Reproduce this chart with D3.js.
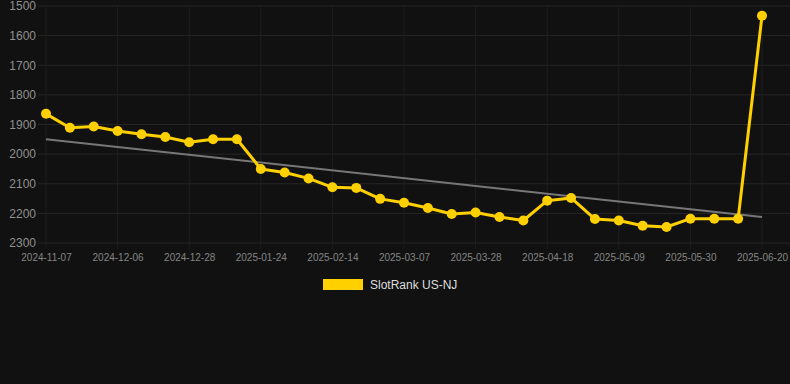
<!DOCTYPE html>
<html>
<head>
<meta charset="utf-8">
<script src="https://cdn.jsdelivr.net/npm/d3@7"></script>
<style>
  html, body { margin: 0; padding: 0; background: #111111; }
  svg { display: block; }
</style>
</head>
<body>
<svg id="chart"></svg>
<script>
// weekly snapshots, only every 3rd date gets a label
const dates = [
  "2024-11-07", "2024-11-15", "2024-11-22", "2024-12-06", "2024-12-13", "2024-12-20",
  "2024-12-28", "2025-01-10", "2025-01-17", "2025-01-24", "2025-01-31", "2025-02-07",
  "2025-02-14", "2025-02-21", "2025-02-28", "2025-03-07", "2025-03-14", "2025-03-21",
  "2025-03-28", "2025-04-04", "2025-04-11", "2025-04-18", "2025-04-25", "2025-05-02",
  "2025-05-09", "2025-05-16", "2025-05-23", "2025-05-30", "2025-06-06", "2025-06-13",
  "2025-06-20"
];
const rank = [
  1864, 1911, 1907, 1922, 1933, 1942, 1960, 1950, 1950, 2050, 2062, 2082,
  2112, 2114, 2151, 2164, 2182, 2202, 2197, 2212, 2224, 2157, 2148, 2219,
  2224, 2242, 2246, 2218, 2218, 2218, 1533
];
const yTicks = [1500, 1600, 1700, 1800, 1900, 2000, 2100, 2200, 2300];
const seriesName = "SlotRank US-NJ";

function main() {
  const width = 790, height = 384;
  const margin = {left: 38, right: 0, top: 6, bottom: 141};
  const gold = "#ffd000";
  const font = "'Liberation Sans', Arial, sans-serif";

  const svg = d3.select("#chart").attr("width", width).attr("height", height);

  const x = d3.scalePoint()
    .domain(dates)
    .range([46, 762]);
  const y = d3.scaleLinear()
    .domain([1500, 2300])
    .range([margin.top, height - margin.bottom]);

  const labelled = dates.filter((d, i) => i % 3 === 0);

  // grid
  svg.append("g")
    .selectAll("line")
    .data(yTicks).enter()
    .append("line")
      .attr("x1", margin.left).attr("x2", width)
      .attr("y1", d => y(d)).attr("y2", d => y(d))
      .attr("stroke", "#262626").attr("stroke-width", 1);

  svg.append("g")
    .selectAll("line")
    .data(labelled).enter()
    .append("line")
      .attr("x1", d => x(d)).attr("x2", d => x(d))
      .attr("y1", margin.top).attr("y2", y(2300) + 6)
      .attr("stroke", "#1f1f1f").attr("stroke-width", 1);

  // axes
  const yAxis = svg.append("g")
    .attr("transform", `translate(${margin.left - 2},0)`)
    .call(d3.axisLeft(y).tickValues(yTicks).tickSize(0).tickPadding(0).tickFormat(d3.format("d")));
  yAxis.select(".domain").remove();
  yAxis.selectAll("text")
    .attr("fill", "#909090")
    .attr("font-family", font)
    .attr("font-size", 12);

  const xAxis = svg.append("g")
    .attr("transform", `translate(0,${y(2300)})`)
    .call(d3.axisBottom(x).tickValues(labelled).tickSize(0).tickPadding(11));
  xAxis.select(".domain").remove();
  xAxis.selectAll("text")
    .attr("fill", "#858585")
    .attr("font-family", font)
    .attr("font-size", 10);

  // least squares trend
  const n = rank.length;
  const xs = d3.range(n);
  const mx = d3.mean(xs), my = d3.mean(rank);
  const slope = d3.sum(xs, i => (i - mx) * (rank[i] - my)) / d3.sum(xs, i => (i - mx) ** 2);
  const icpt = my - slope * mx;

  svg.append("line")
    .attr("x1", x(dates[0])).attr("y1", y(icpt))
    .attr("x2", x(dates[n - 1])).attr("y2", y(icpt + slope * (n - 1)))
    .attr("stroke", "#777").attr("stroke-width", 2);

  const lineMaker = d3.line()
    .x((d, i) => x(dates[i]))
    .y(d => y(d));

  svg.append("path")
    .datum(rank)
    .attr("d", lineMaker)
    .attr("fill", "none")
    .attr("stroke", gold)
    .attr("stroke-width", 3)
    .attr("stroke-linejoin", "round");

  svg.append("g")
    .selectAll("circle")
    .data(rank).enter()
    .append("circle")
      .attr("cx", (d, i) => x(dates[i]))
      .attr("cy", d => y(d))
      .attr("r", 5)
      .attr("fill", gold);

  // legend
  const legend = svg.append("g").attr("transform", "translate(323,279)");
  legend.append("rect")
    .attr("width", 40).attr("height", 11)
    .attr("fill", gold);
  legend.append("text")
    .attr("x", 47).attr("y", 5.5)
    .attr("dy", "0.35em")
    .attr("fill", "#dddddd")
    .attr("font-family", font)
    .attr("font-size", 12)
    .text(seriesName);
}

window.addEventListener("load", main);
</script>
</body>
</html>
